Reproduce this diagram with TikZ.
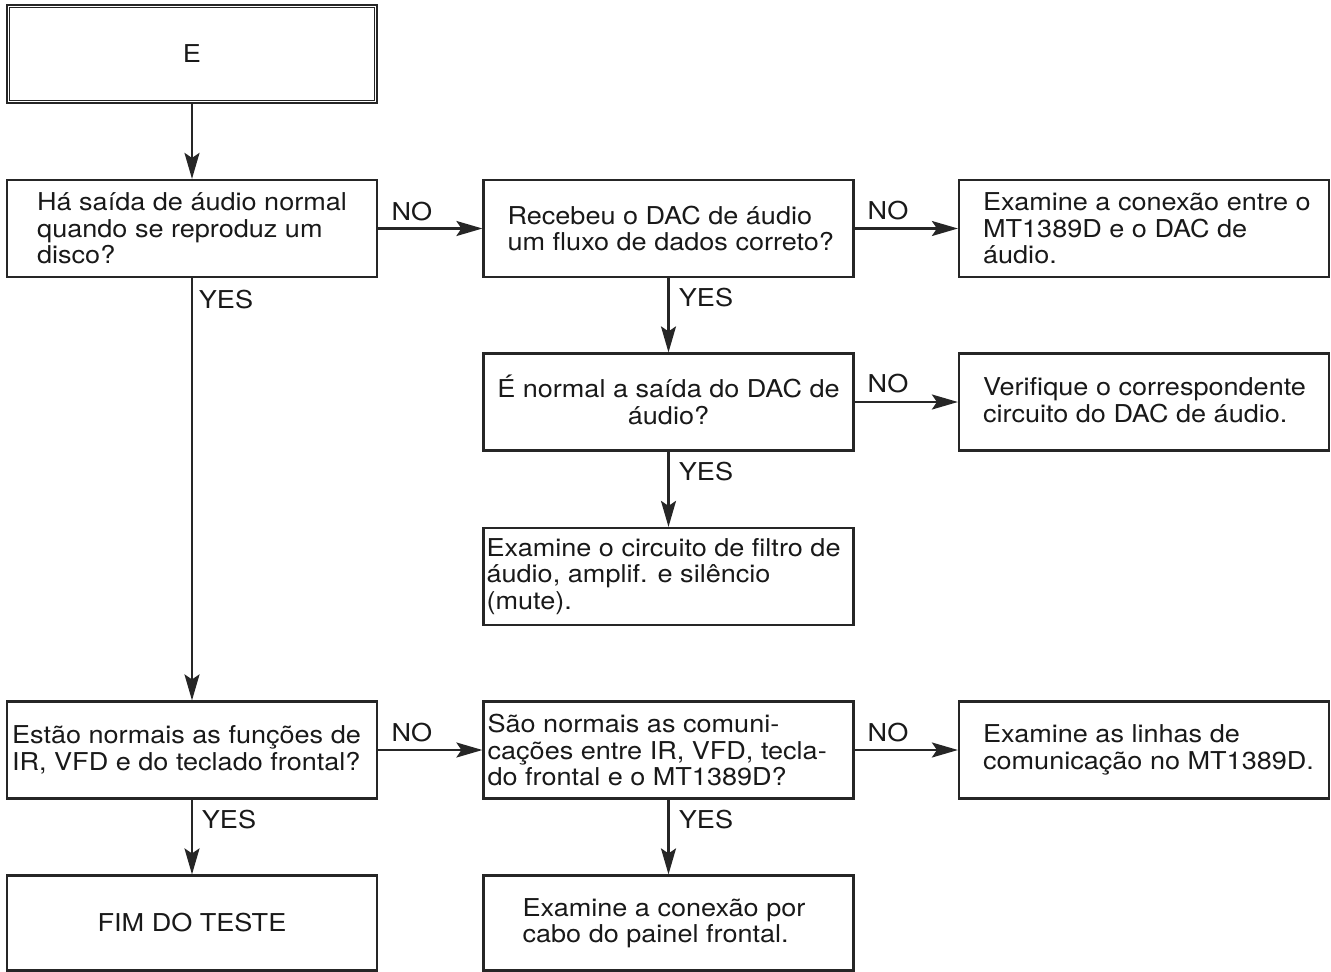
\documentclass[tikz,border=0pt]{standalone}
\usepackage{fontspec}
\setmainfont{TeX Gyre Heros}[FakeStretch=1.1]
\usetikzlibrary{arrows.meta}
\begin{document}
\begin{tikzpicture}[x=1pt,y=-1pt,
  box/.style={draw=black!85, line width=2.2pt, minimum width=370pt, minimum height=97pt, inner sep=0pt},
  txt/.style={align=left, inner sep=0pt, anchor=west, font=\fontsize{24.6}{26.5}\selectfont, text=black!90},
  ctxt/.style={align=center, inner sep=0pt, font=\fontsize{24.6}{26.5}\selectfont, text=black!90},
  lbl/.style={inner sep=0pt, font=\fontsize{24.6}{26.5}\selectfont, text=black!90},
  arr/.style={draw=black!85, line width=2.2pt, -{Stealth[length=26pt,width=15pt,inset=5pt]}}]
\useasboundingbox (0,0) rectangle (1331,972);
% start box
\node[box, line width=2.8pt, minimum height=98pt] (S) at (192,54) {};
\draw[line width=1pt, draw=black!85] ([shift={(4,4)}]S.north west) rectangle ([shift={(-4,-4)}]S.south east);
\node[ctxt] (St) at (S.center) {E};
% boxes
\node[box] (A) at (192,228.5) {};
\node[box] (B) at (668.5,228.5) {};
\node[box] (C) at (1144,228.5) {};
\node[box] (D) at (668.5,402) {};
\node[box] (E) at (1144,402) {};
\node[box] (F) at (668.5,576.5) {};
\node[box] (G) at (192,750) {};
\node[box] (H) at (668.5,750) {};
\node[box] (I) at (1144,750) {};
\node[box, minimum height=95pt] (J) at (192,923) {};
\node[box, minimum height=95pt] (K) at (668.5,923) {};
% texts
\node[txt] (At) at ([xshift=31]A.west) {Há saída de áudio normal\\quando se reproduz um\\disco?};
\node[txt] (Bt) at ([xshift=25]B.west) {Recebeu o DAC de áudio\\um fluxo de dados correto?};
\node[txt] (Ct) at ([xshift=25]C.west) {Examine a conexão entre o\\MT1389D e o DAC de\\áudio.};
\node[ctxt] (Dt) at ([yshift=2]D.center) {É normal a saída do DAC de\\áudio?};
\node[txt] (Et) at ([xshift=25,yshift=2]E.west) {Verifique o correspondente\\circuito do DAC de áudio.};
\node[txt] (Ft) at ([xshift=4]F.west) {Examine o circuito de filtro de\\áudio, amplif. e silêncio\\(mute).};
\node[txt] (Gt) at ([xshift=6]G.west) {Estão normais as funções de\\IR, VFD e do teclado frontal?};
\node[txt] (Ht) at ([xshift=5]H.west) {São normais as comuni-\\cações entre IR, VFD, tecla-\\do frontal e o MT1389D?};
\node[txt] (It) at ([xshift=25]I.west) {Examine as linhas de\\comunicação no MT1389D.};
\node[ctxt] (Jt) at (J.center) {FIM DO TESTE};
\node[txt] (Kt) at ([xshift=40]K.west) {Examine a conexão por\\cabo do painel frontal.};
% connectors
\draw[arr] (S.south) -- (A.north);
\draw[arr] (A.east) -- (B.west);
\draw[arr] (B.east) -- (C.west);
\draw[arr] (B.south) -- (D.north);
\draw[arr] (D.east) -- (E.west);
\draw[arr] (D.south) -- (F.north);
\draw[arr] (A.south) -- (G.north);
\draw[arr] (G.east) -- (H.west);
\draw[arr] (H.east) -- (I.west);
\draw[arr] (G.south) -- (J.north);
\draw[arr] (H.south) -- (K.north);
% labels
\node[lbl] (l1) at (412,212) {NO};
\node[lbl] (l2) at (888,211) {NO};
\node[lbl] (l3) at (888,384) {NO};
\node[lbl] (l4) at (412,733) {NO};
\node[lbl] (l5) at (888,733) {NO};
\node[lbl] (y1) at (226,300) {YES};
\node[lbl] (y2) at (706,298) {YES};
\node[lbl] (y3) at (706,472) {YES};
\node[lbl] (y4) at (229,820) {YES};
\node[lbl] (y5) at (706,820) {YES};
\end{tikzpicture}
\end{document}
